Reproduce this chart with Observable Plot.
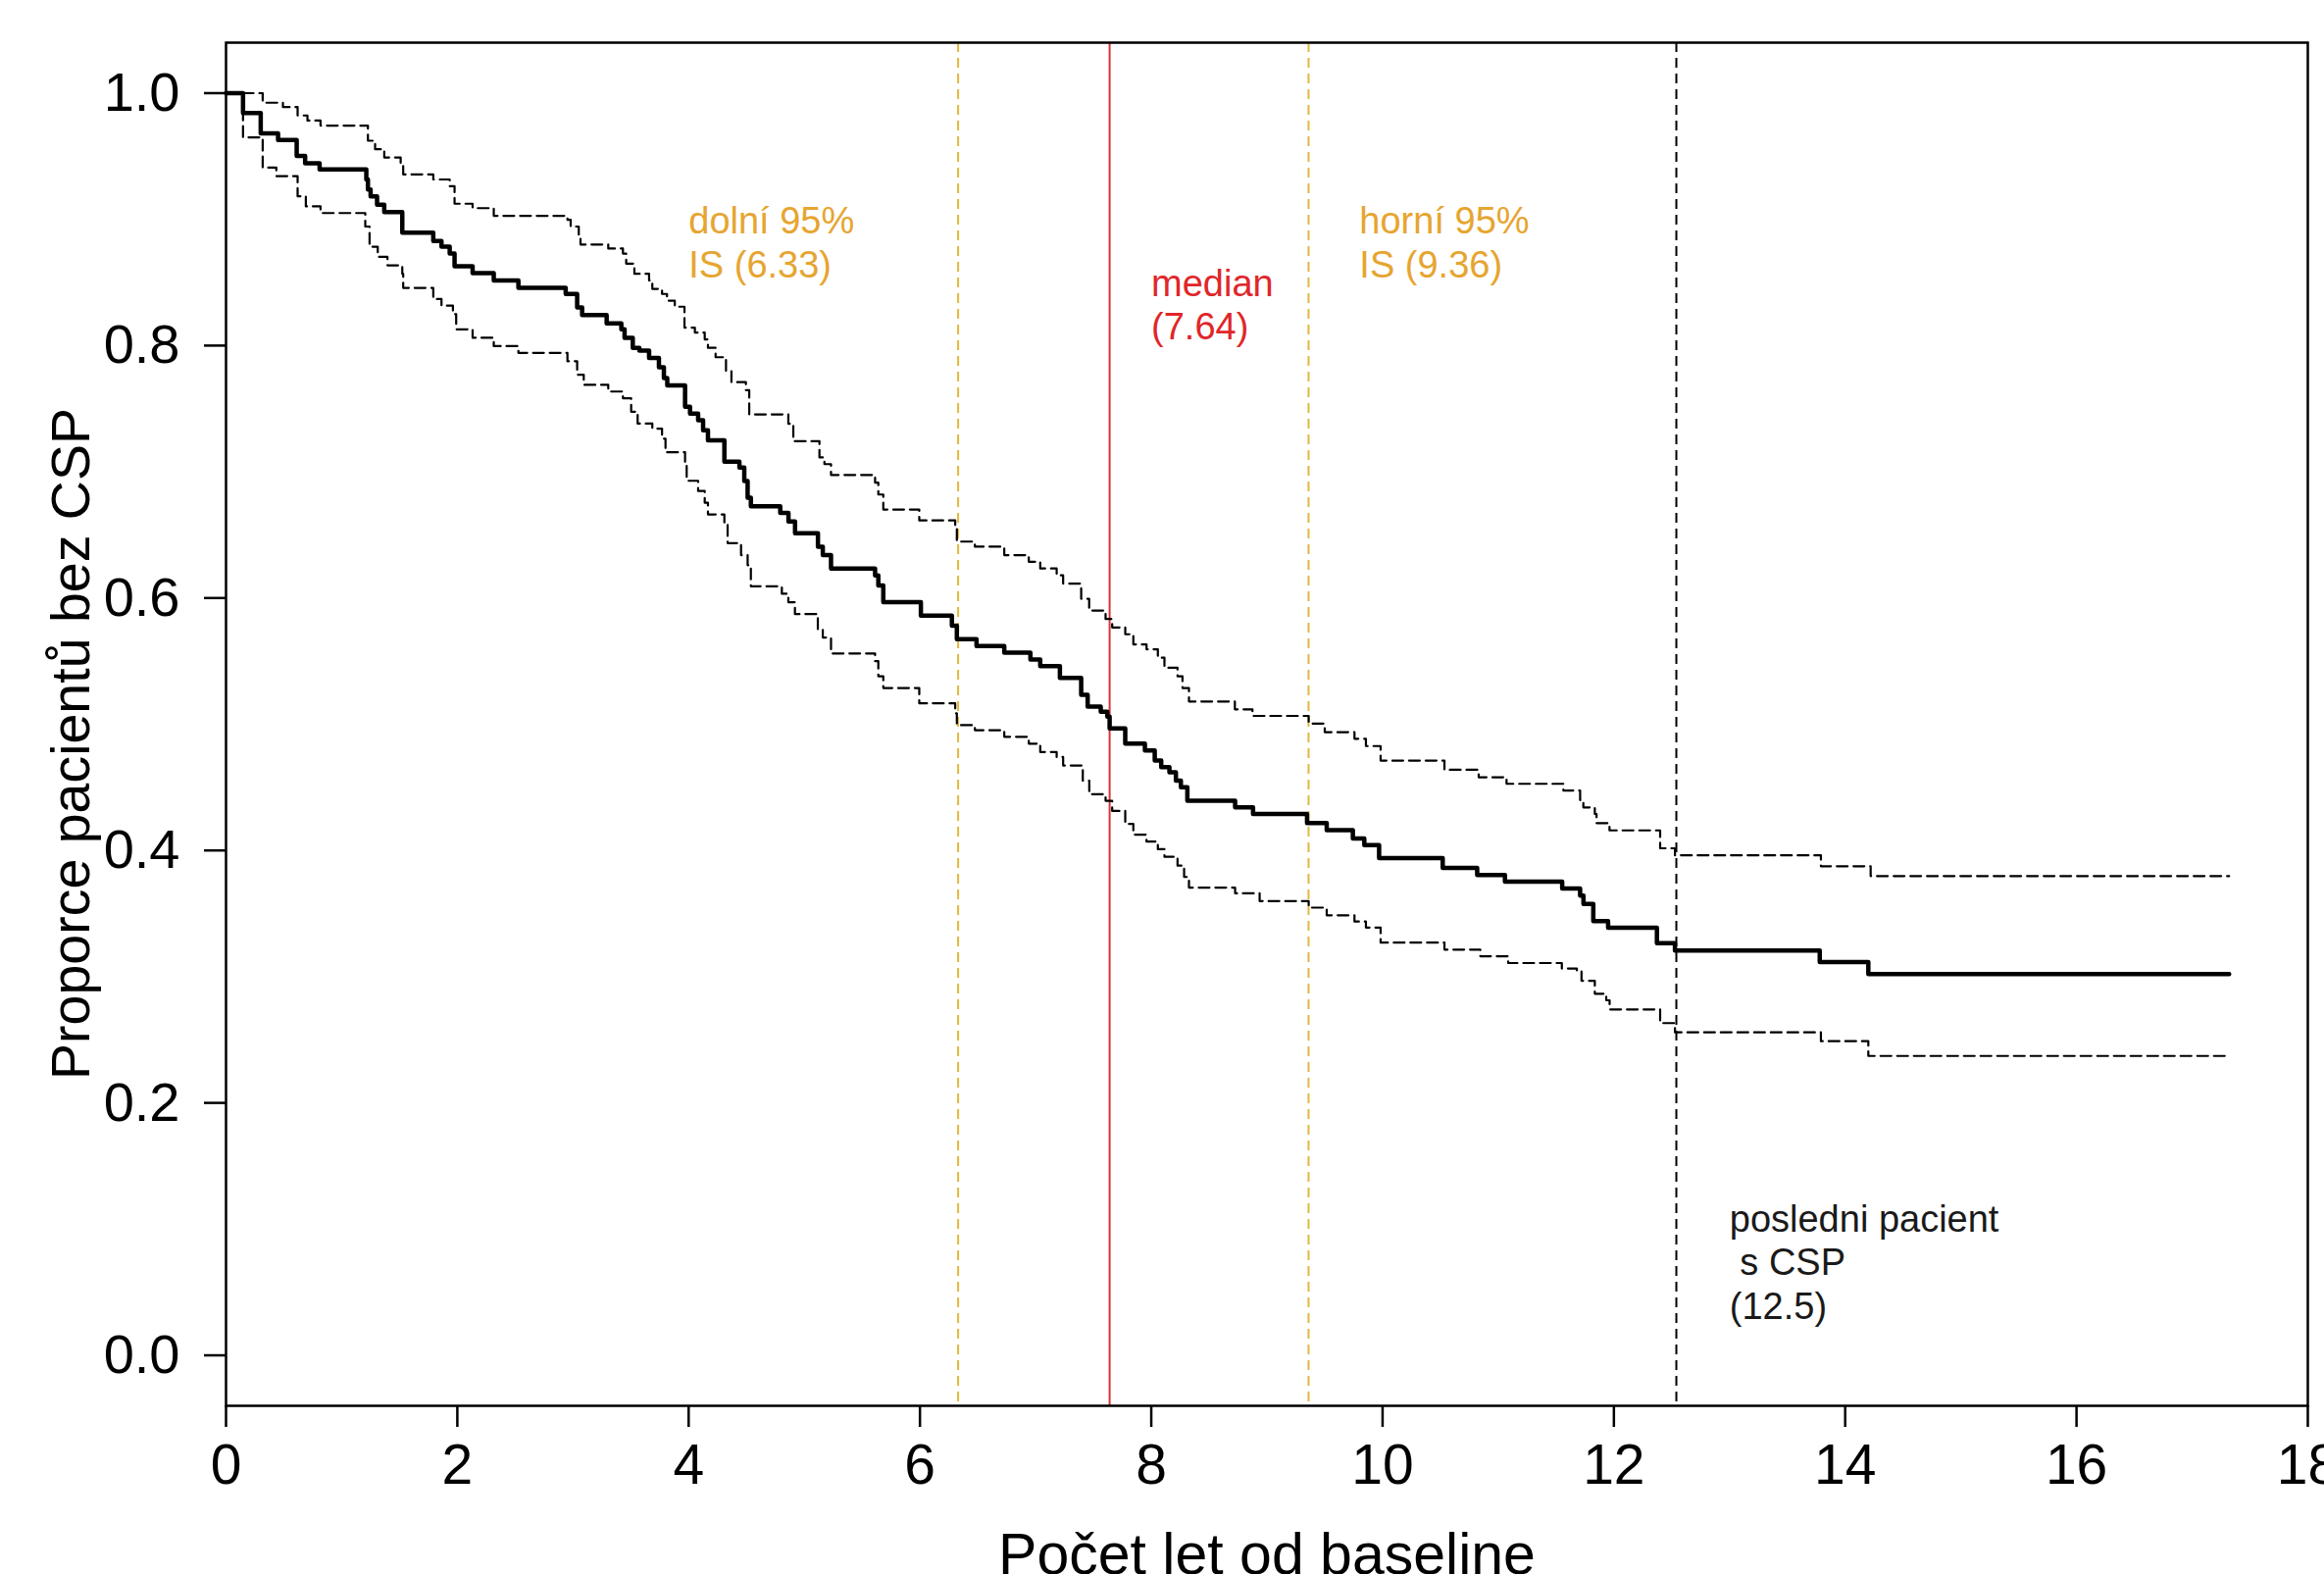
<!DOCTYPE html>
<html>
<head>
<meta charset="utf-8">
<script src="https://cdn.jsdelivr.net/npm/d3@7"></script>
<script src="https://cdn.jsdelivr.net/npm/@observablehq/plot@0.6"></script>
<style>
  html, body { margin: 0; padding: 0; background: #ffffff; }
  svg { display: block; }
</style>
</head>
<body>
<div id="chart"></div>
<script>
// ---- Kaplan–Meier estimate (step after) ----
const survTime = [0, 0.147, 0.300, 0.450, 0.611, 0.684, 0.809, 1.213, 1.227, 1.250, 1.306, 1.368, 1.524, 1.792, 1.863, 1.934, 1.976, 2.132, 2.315, 2.528, 2.937, 3.036, 3.079, 3.291, 3.418, 3.446, 3.517, 3.574, 3.658, 3.743, 3.786, 3.815, 3.969, 4.012, 4.082, 4.125, 4.167, 4.309, 4.439, 4.481, 4.510, 4.538, 4.792, 4.863, 4.920, 5.118, 5.160, 5.231, 5.612, 5.640, 5.683, 6.008, 6.276, 6.319, 6.489, 6.729, 6.955, 7.040, 7.210, 7.394, 7.450, 7.563, 7.620, 7.640, 7.775, 7.945, 8.030, 8.086, 8.157, 8.213, 8.256, 8.312, 8.725, 8.880, 9.347, 9.517, 9.743, 9.842, 9.970, 10.520, 10.818, 11.058, 11.553, 11.708, 11.737, 11.822, 11.950, 12.372, 12.528, 13.780, 14.200, 17.320];
const survProb = [1.0, 0.9842, 0.9682, 0.9628, 0.9503, 0.9444, 0.9396, 0.9316, 0.9236, 0.9183, 0.9116, 0.9057, 0.8895, 0.8828, 0.8783, 0.8730, 0.8628, 0.8575, 0.8516, 0.8457, 0.8409, 0.8302, 0.8241, 0.8175, 0.8129, 0.8062, 0.7982, 0.7961, 0.7902, 0.7828, 0.7742, 0.7684, 0.7516, 0.7462, 0.7409, 0.7329, 0.7249, 0.7080, 0.7034, 0.6927, 0.6794, 0.6727, 0.6674, 0.6607, 0.6514, 0.6407, 0.6340, 0.6234, 0.6180, 0.6100, 0.5967, 0.5860, 0.5780, 0.5674, 0.5620, 0.5567, 0.5513, 0.5460, 0.5367, 0.5233, 0.5140, 0.5100, 0.5060, 0.4967, 0.4846, 0.4793, 0.4713, 0.4660, 0.4619, 0.4553, 0.4500, 0.4393, 0.4341, 0.4289, 0.4217, 0.4160, 0.4095, 0.4043, 0.3940, 0.3862, 0.3805, 0.3753, 0.3699, 0.3642, 0.3577, 0.3440, 0.3388, 0.3266, 0.3207, 0.3116, 0.3020, 0.3020];

// ---- upper 95% confidence band ----
const upperTime = [0, 0.317, 0.492, 0.619, 0.704, 0.817, 1.227, 1.289, 1.368, 1.510, 1.532, 1.792, 1.934, 1.976, 2.132, 2.315, 2.952, 2.980, 3.050, 3.065, 3.305, 3.432, 3.460, 3.531, 3.658, 3.686, 3.770, 3.813, 3.880, 3.964, 4.054, 4.139, 4.167, 4.233, 4.323, 4.370, 4.495, 4.524, 4.862, 4.905, 5.131, 5.174, 5.231, 5.612, 5.640, 5.683, 5.994, 6.305, 6.319, 6.475, 6.729, 6.941, 7.040, 7.182, 7.238, 7.394, 7.463, 7.605, 7.662, 7.775, 7.845, 7.959, 8.057, 8.114, 8.227, 8.270, 8.326, 8.723, 8.875, 9.361, 9.500, 9.757, 9.856, 9.983, 10.535, 10.831, 11.072, 11.563, 11.708, 11.736, 11.835, 11.850, 11.962, 12.400, 12.528, 13.790, 14.220, 17.320];
const upperProb = [1.0, 0.9924, 0.9890, 0.9823, 0.9783, 0.9743, 0.9623, 0.9556, 0.9490, 0.9436, 0.9356, 0.9316, 0.9263, 0.9124, 0.9089, 0.9028, 0.8996, 0.8943, 0.8863, 0.8801, 0.8769, 0.8729, 0.8649, 0.8569, 0.8516, 0.8449, 0.8409, 0.8356, 0.8308, 0.8142, 0.8103, 0.8049, 0.7982, 0.7908, 0.7796, 0.7710, 0.7647, 0.7455, 0.7381, 0.7242, 0.7114, 0.7061, 0.6975, 0.6914, 0.6820, 0.6701, 0.6615, 0.6554, 0.6447, 0.6407, 0.6340, 0.6287, 0.6234, 0.6180, 0.6114, 0.5994, 0.5901, 0.5834, 0.5767, 0.5713, 0.5633, 0.5594, 0.5527, 0.5447, 0.5380, 0.5287, 0.5180, 0.5118, 0.5066, 0.5005, 0.4937, 0.4885, 0.4827, 0.4712, 0.4639, 0.4580, 0.4528, 0.4475, 0.4399, 0.4341, 0.4289, 0.4217, 0.4159, 0.4017, 0.3961, 0.3875, 0.3797, 0.3797];

// ---- lower 95% confidence band ----
const lowerTime = [0, 0.147, 0.317, 0.435, 0.619, 0.690, 0.817, 1.204, 1.241, 1.312, 1.396, 1.524, 1.532, 1.792, 1.863, 1.962, 1.990, 2.132, 2.315, 2.528, 2.952, 3.036, 3.093, 3.305, 3.432, 3.503, 3.559, 3.686, 3.770, 3.800, 3.969, 3.983, 4.082, 4.139, 4.167, 4.309, 4.337, 4.453, 4.510, 4.538, 4.806, 4.862, 4.919, 5.117, 5.160, 5.231, 5.612, 5.640, 5.683, 5.994, 6.305, 6.319, 6.475, 6.729, 6.941, 7.040, 7.182, 7.238, 7.408, 7.464, 7.605, 7.662, 7.775, 7.845, 7.959, 8.057, 8.114, 8.227, 8.284, 8.326, 8.725, 8.937, 9.361, 9.517, 9.757, 9.856, 9.983, 10.535, 10.845, 11.086, 11.550, 11.680, 11.720, 11.835, 11.934, 11.963, 12.400, 12.528, 13.790, 14.200, 17.320];
const lowerProb = [1.0, 0.9650, 0.9410, 0.9343, 0.9183, 0.9103, 0.9050, 0.8943, 0.8783, 0.8703, 0.8636, 0.8569, 0.8457, 0.8369, 0.8316, 0.8249, 0.8129, 0.8062, 0.7996, 0.7942, 0.7876, 0.7769, 0.7689, 0.7636, 0.7582, 0.7476, 0.7382, 0.7342, 0.7262, 0.7155, 0.7075, 0.6929, 0.6848, 0.6755, 0.6662, 0.6595, 0.6435, 0.6340, 0.6260, 0.6093, 0.6034, 0.5967, 0.5873, 0.5754, 0.5687, 0.5561, 0.5500, 0.5380, 0.5287, 0.5166, 0.5086, 0.4993, 0.4953, 0.4900, 0.4846, 0.4780, 0.4740, 0.4673, 0.4553, 0.4446, 0.4393, 0.4313, 0.4210, 0.4125, 0.4070, 0.4010, 0.3950, 0.3880, 0.3790, 0.3706, 0.3660, 0.3599, 0.3547, 0.3486, 0.3437, 0.3389, 0.3270, 0.3214, 0.3162, 0.3108, 0.3065, 0.3046, 0.2968, 0.2865, 0.2813, 0.2740, 0.2632, 0.2559, 0.2489, 0.2372, 0.2372];

// ---- reference lines and their labels ----
const ciLines = [6.33, 9.36];
const medianLine = [7.64];
const lastEventLine = [12.54];
const lowerCiLabel = "dolní 95%\nIS (6.33)";
const medianLabel = "median\n(7.64)";
const upperCiLabel = "horní 95%\nIS (9.36)";
const lastEventLabel = "posledni pacient\n\u00A0s CSP\n(12.5)";

// ---- axes ----
const xTicks = [0, 2, 4, 6, 8, 10, 12, 14, 16, 18];
const yTicks = [0, 0.2, 0.4, 0.6, 0.8, 1.0];
const xTitle = "Počet let od baseline";
const yTitle = "Proporce pacientů bez CSP";

const rows = (ts, ps) => ts.map((t, i) => ({t, p: ps[i]}));
const ORANGE = "#E6A530";
const RED = "#E0262A";
const FONT = "'Liberation Sans', Arial, Helvetica, sans-serif";

const chart = Plot.plot({
  width: 2370,
  height: 1605,
  marginLeft: 230,
  marginRight: 17,
  marginTop: 43,
  marginBottom: 172,
  style: {fontFamily: FONT, background: "white", color: "black", overflow: "visible"},
  x: {domain: [0, 18]},
  y: {domain: [-0.04, 1.04]},
  marks: [
    Plot.ruleX(ciLines, {stroke: "#E2B83E", strokeWidth: 2, strokeDasharray: "10,6"}),
    Plot.ruleX(medianLine, {stroke: "#D9353A", strokeWidth: 2}),
    Plot.ruleX(lastEventLine, {stroke: "black", strokeWidth: 2, strokeDasharray: "10,6"}),
    Plot.line(rows(upperTime, upperProb), {x: "t", y: "p", curve: "step-after", stroke: "black", strokeWidth: 2.2, strokeDasharray: "11,6"}),
    Plot.line(rows(lowerTime, lowerProb), {x: "t", y: "p", curve: "step-after", stroke: "black", strokeWidth: 2.2, strokeDasharray: "11,6"}),
    Plot.line(rows(survTime, survProb), {x: "t", y: "p", curve: "step-after", stroke: "black", strokeWidth: 4.5}),
    Plot.frame({stroke: "black", strokeWidth: 2.5}),
    Plot.axisX({ticks: xTicks, tickSize: 22, tickPadding: 17, fontSize: 57, strokeWidth: 2.5, label: null, tickFormat: d => String(d)}),
    Plot.axisY({ticks: yTicks, tickSize: 22, tickPadding: 25, fontSize: 56, strokeWidth: 2.5, label: null, tickFormat: d3.format(".1f")}),
    Plot.text([xTitle], {text: d => d, frameAnchor: "bottom", textAnchor: "middle", dy: 171, fontSize: 59, lineAnchor: "bottom", fill: "black"}),
    Plot.text([yTitle], {text: d => d, frameAnchor: "left", textAnchor: "middle", dx: -140, dy: 20, rotate: -90, fontSize: 55.5, lineAnchor: "bottom", fill: "black"}),
    Plot.text([lowerCiLabel], {text: d => d, x: 4, y: 0.8823, textAnchor: "start", lineAnchor: "middle", lineHeight: 1.17, fontSize: 38, fill: ORANGE}),
    Plot.text([medianLabel], {text: d => d, x: 8, y: 0.833, textAnchor: "start", lineAnchor: "middle", lineHeight: 1.17, fontSize: 38, fill: RED}),
    Plot.text([upperCiLabel], {text: d => d, x: 9.8, y: 0.8823, textAnchor: "start", lineAnchor: "middle", lineHeight: 1.17, fontSize: 38, fill: ORANGE}),
    Plot.text([lastEventLabel], {text: d => d, x: 13, y: 0.0746, textAnchor: "start", lineAnchor: "middle", lineHeight: 1.17, fontSize: 38, fill: "#1a1a1a"})
  ]
});
document.getElementById("chart").appendChild(chart);
</script>
</body>
</html>
